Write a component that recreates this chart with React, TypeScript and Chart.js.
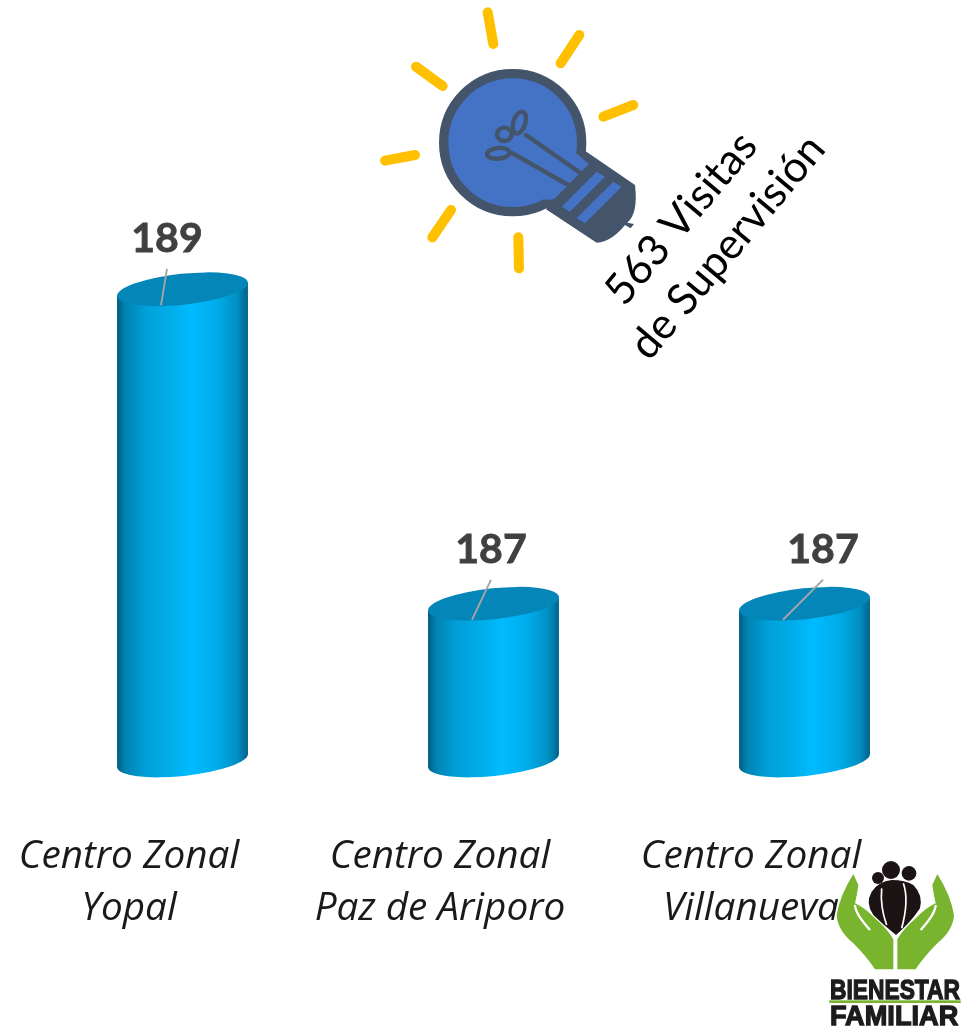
import React, { useEffect, useRef } from "react";
import { Chart, registerables } from "chart.js";

Chart.register(...registerables);

const categories = [
  ["Centro Zonal", "Yopal"],
  ["Centro Zonal", "Paz de Ariporo"],
  ["Centro Zonal", "Villanueva"],
];
const visitas = [189, 187, 187];
const valueLabels = ["189", "187", "187"];
const calloutLines = ["563 Visitas", "de Supervisión"];
const logoLines = ["BIENESTAR", "FAMILIAR"];
const axisMin = 186;
const axisMax = 190;

// label centre offset from the bar's top centre
const labelDx = [-15.5, -2.5, 18.5];
const labelDy = [-50, -54, -54];
const leaderStartDy = [-20.5, -24, -24];

const TILT = (-6 * Math.PI) / 180;
const MINOR = 15.5;
const EDGE_DROP = 6.5;

function wallGradient(ctx: CanvasRenderingContext2D, left: number, right: number) {
  const g = ctx.createLinearGradient(left, 0, right, 0);
  g.addColorStop(0, "#015C80");
  g.addColorStop(0.06, "#0082B2");
  g.addColorStop(0.22, "#00A0D8");
  g.addColorStop(0.42, "#00AEEA");
  g.addColorStop(0.56, "#00BBFF");
  g.addColorStop(0.76, "#00ADEA");
  g.addColorStop(0.92, "#008FC2");
  g.addColorStop(1, "#01628A");
  return g;
}

const cylinders = {
  id: "cylinders",
  beforeDatasetDraw(chart: any) {
    const ctx: CanvasRenderingContext2D = chart.ctx;
    const meta = chart.getDatasetMeta(0);
    meta.data.forEach((el: any) => {
      const { x, y, base, width } = el.getProps(["x", "y", "base", "width"], true);
      const l = x - width / 2;
      const r = x + width / 2;
      ctx.save();
      ctx.fillStyle = wallGradient(ctx, l, r);
      ctx.beginPath();
      ctx.ellipse(x, base - 0.5, width / 2 + 0.3, MINOR, TILT, 0, Math.PI * 2);
      ctx.fill();
      ctx.beginPath();
      ctx.moveTo(l, y + EDGE_DROP);
      ctx.lineTo(r, y - EDGE_DROP);
      ctx.lineTo(r, base - EDGE_DROP);
      ctx.lineTo(l, base + EDGE_DROP);
      ctx.closePath();
      ctx.fill();
      ctx.fillStyle = "#0586B8";
      ctx.beginPath();
      ctx.ellipse(x, y, width / 2 + 0.3, MINOR, TILT, 0, Math.PI * 2);
      ctx.fill();
      ctx.restore();
    });
    return false;
  },
};

const valueLabelsPlugin = {
  id: "valueLabels",
  afterDatasetsDraw(chart: any) {
    const ctx: CanvasRenderingContext2D = chart.ctx;
    const meta = chart.getDatasetMeta(0);
    meta.data.forEach((el: any, i: number) => {
      const { x, y } = el.getProps(["x", "y"], true);
      ctx.save();
      ctx.strokeStyle = "#A6A6A6";
      ctx.lineWidth = 1.8;
      ctx.beginPath();
      ctx.moveTo(x + labelDx[i], y + leaderStartDy[i]);
      ctx.lineTo(x - 21.5, y + 16);
      ctx.stroke();
      ctx.fillStyle = "#404040";
      ctx.strokeStyle = "#404040";
      ctx.lineWidth = 0.8;
      ctx.font = "bold 41px Lato";
      ctx.textAlign = "center";
      ctx.textBaseline = "middle";
      ctx.fillText(valueLabels[i], x + labelDx[i], y + labelDy[i]);
      ctx.strokeText(valueLabels[i], x + labelDx[i], y + labelDy[i]);
      ctx.restore();
    });
  },
};

function drawBulb(ctx: CanvasRenderingContext2D) {
  ctx.save();
  ctx.translate(370, 0);
  ctx.scale(1 / 3, 1 / 3);
  const dark = "#44546A";
  const blue = "#4472C4";
  ctx.strokeStyle = "#FFC000";
  ctx.lineWidth = 30;
  ctx.lineCap = "round";
  const rays = [
    [353, 37, 370, 132],
    [628, 105, 572, 190],
    [790, 315, 700, 350],
    [138, 200, 218, 258],
    [135, 465, 45, 482],
    [243, 630, 187, 712],
    [445, 712, 447, 805],
  ];
  rays.forEach(([a, b, c, d]) => {
    ctx.beginPath();
    ctx.moveTo(a, b);
    ctx.lineTo(c, d);
    ctx.stroke();
  });
  ctx.fillStyle = dark;
  ctx.beginPath();
  ctx.moveTo(645, 452);
  ctx.lineTo(795, 555);
  ctx.quadraticCurveTo(805, 640, 772, 668);
  ctx.lineTo(792, 672);
  ctx.lineTo(782, 685);
  ctx.lineTo(765, 675);
  ctx.quadraticCurveTo(725, 725, 680, 728);
  ctx.lineTo(528, 628);
  ctx.closePath();
  ctx.fill();
  ctx.fillStyle = blue;
  ctx.strokeStyle = dark;
  ctx.lineWidth = 28;
  ctx.beginPath();
  ctx.arc(428, 428, 207, 0, Math.PI * 2);
  ctx.fill();
  ctx.stroke();
  ctx.beginPath();
  ctx.moveTo(610, 452);
  ctx.lineTo(657, 492);
  ctx.lineTo(552, 598);
  ctx.lineTo(525, 600);
  ctx.lineTo(428, 428);
  ctx.closePath();
  ctx.fill();
  [
    [680, 515, 705, 530, 600, 635, 575, 620],
    [730, 545, 755, 560, 645, 670, 620, 655],
  ].forEach((p) => {
    ctx.beginPath();
    ctx.moveTo(p[0], p[1]);
    ctx.lineTo(p[2], p[3]);
    ctx.lineTo(p[4], p[5]);
    ctx.lineTo(p[6], p[7]);
    ctx.closePath();
    ctx.fill();
  });
  ctx.strokeStyle = dark;
  ctx.lineWidth = 13;
  [
    [640, 525, 468, 405],
    [600, 558, 428, 460],
  ].forEach(([a, b, c, d]) => {
    ctx.beginPath();
    ctx.moveTo(a, b);
    ctx.lineTo(c, d);
    ctx.stroke();
  });
  [
    [448, 368, 18, 34, 0.3],
    [403, 403, 22, 20, 0],
    [385, 460, 34, 16, -0.1],
  ].forEach(([x, y, rx, ry, rot]) => {
    ctx.beginPath();
    ctx.ellipse(x, y, rx, ry, rot, 0, Math.PI * 2);
    ctx.stroke();
  });
  ctx.restore();
}

function drawHand(ctx: CanvasRenderingContext2D) {
  ctx.beginPath();
  ctx.moveTo(100, 72);
  ctx.quadraticCurveTo(60, 135, 50, 195);
  ctx.quadraticCurveTo(52, 240, 100, 280);
  ctx.quadraticCurveTo(140, 320, 165, 358);
  ctx.lineTo(220, 358);
  ctx.lineTo(220, 268);
  ctx.quadraticCurveTo(205, 240, 165, 205);
  ctx.quadraticCurveTo(130, 170, 105, 160);
  ctx.quadraticCurveTo(112, 130, 115, 105);
  ctx.closePath();
  ctx.fill();
}

function drawLogo(ctx: CanvasRenderingContext2D) {
  ctx.save();
  ctx.translate(820, 850);
  ctx.scale(1 / 3, 1 / 3);
  ctx.fillStyle = "#78B42E";
  drawHand(ctx);
  ctx.save();
  ctx.translate(452, 0);
  ctx.scale(-1, 1);
  drawHand(ctx);
  ctx.restore();
  ctx.strokeStyle = "#FFFFFF";
  ctx.lineWidth = 7;
  ctx.beginPath();
  ctx.moveTo(105, 165);
  ctx.quadraticCurveTo(105, 190, 150, 240);
  ctx.moveTo(347, 165);
  ctx.quadraticCurveTo(347, 190, 302, 240);
  ctx.stroke();
  ctx.fillStyle = "#1C1414";
  [
    [213, 60, 27],
    [174, 84, 18],
    [267, 70, 22],
  ].forEach(([x, y, r]) => {
    ctx.beginPath();
    ctx.arc(x, y, r, 0, Math.PI * 2);
    ctx.fill();
  });
  ctx.beginPath();
  ctx.moveTo(228, 255);
  ctx.quadraticCurveTo(190, 225, 160, 195);
  ctx.quadraticCurveTo(135, 160, 155, 125);
  ctx.quadraticCurveTo(175, 95, 215, 90);
  ctx.quadraticCurveTo(255, 90, 280, 105);
  ctx.quadraticCurveTo(310, 135, 300, 175);
  ctx.quadraticCurveTo(270, 220, 228, 255);
  ctx.closePath();
  ctx.fill();
  ctx.strokeStyle = "#FFFFFF";
  ctx.lineWidth = 5;
  ctx.beginPath();
  ctx.moveTo(185, 115);
  ctx.quadraticCurveTo(180, 170, 200, 225);
  ctx.moveTo(250, 100);
  ctx.quadraticCurveTo(268, 150, 245, 235);
  ctx.stroke();
  ctx.fillStyle = "#1C1C1C";
  ctx.strokeStyle = "#1C1C1C";
  ctx.lineWidth = 4;
  ctx.font = "bold 84px 'Liberation Sans Narrow', 'Liberation Sans'";
  ctx.textAlign = "left";
  ctx.textBaseline = "alphabetic";
  ctx.fillText(logoLines[0], 30, 446, 390);
  ctx.strokeText(logoLines[0], 30, 446, 390);
  ctx.fillText(logoLines[1], 30, 526, 385);
  ctx.strokeText(logoLines[1], 30, 526, 385);
  ctx.fillStyle = "#78B42E";
  ctx.fillRect(28, 451, 394, 8);
  ctx.restore();
}

const decorations = {
  id: "decorations",
  beforeDraw(chart: any) {
    const ctx: CanvasRenderingContext2D = chart.ctx;
    ctx.save();
    ctx.fillStyle = "#FFFFFF";
    ctx.fillRect(0, 0, chart.width, chart.height);
    ctx.restore();
    drawLogo(ctx);
    drawBulb(ctx);
  },
  afterDraw(chart: any) {
    const ctx: CanvasRenderingContext2D = chart.ctx;
    ctx.save();
    ctx.translate(705, 232);
    ctx.rotate((-50 * Math.PI) / 180);
    ctx.fillStyle = "#000000";
    ctx.font = "43px Lato";
    ctx.textAlign = "center";
    ctx.textBaseline = "middle";
    ctx.fillText(calloutLines[0], -5, -27, 214);
    ctx.fillText(calloutLines[1], 3, 27);
    ctx.restore();
  },
};

export default function App() {
  const ref = useRef<HTMLCanvasElement>(null);
  useEffect(() => {
    const chart = new Chart(ref.current!, {
      type: "bar",
      data: {
        labels: categories,
        datasets: [
          {
            label: "Visitas de Supervisión",
            data: visitas,
            base: axisMin,
            backgroundColor: "#00BBFF",
            barPercentage: 1,
            categoryPercentage: 0.421,
          },
        ],
      },
      options: {
        animation: false,
        responsive: false,
        devicePixelRatio: 1,
        layout: { padding: { left: 27, right: 14, top: 132, bottom: 0 } },
        plugins: { legend: { display: false }, title: { display: false }, tooltip: { enabled: false } },
        scales: {
          y: { display: false, min: axisMin, max: axisMax },
          x: {
            grid: { display: false },
            border: { display: false },
            afterFit(scale: any) {
              scale.height = 265;
              scale.paddingLeft = 0;
              scale.paddingRight = 0;
            },
            ticks: {
              color: "#1A1A1A",
              autoSkip: false,
              maxRotation: 0,
              minRotation: 0,
              labelOffset: -53.5,
              padding: 62,
              font: { family: "'Open Sans'", size: 38.7, style: "italic", lineHeight: "52px" as any },
            },
          },
        },
      },
      plugins: [decorations, cylinders, valueLabelsPlugin],
    });
    return () => chart.destroy();
  }, []);
  return (
    <div style={{ position: "fixed", left: 0, top: 0, width: 974, height: 1026, overflow: "hidden", background: "#fff" }}>
      <canvas ref={ref} width={974} height={1026} style={{ display: "block" }} />
    </div>
  );
}
